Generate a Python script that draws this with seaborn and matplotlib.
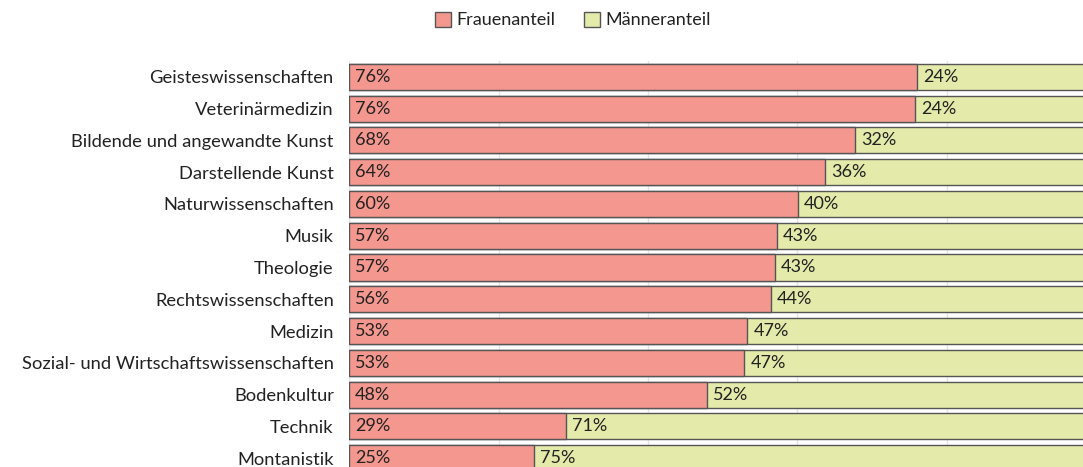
import pandas as pd
import seaborn as sns
import matplotlib.pyplot as plt
from matplotlib.patches import Patch

faecher = ["Geisteswissenschaften", "Veterinärmedizin", "Bildende und angewandte Kunst",
           "Darstellende Kunst", "Naturwissenschaften", "Musik", "Theologie",
           "Rechtswissenschaften", "Medizin", "Sozial- und Wirtschaftswissenschaften",
           "Bodenkultur", "Technik", "Montanistik"]
frauen = [76.0, 75.8, 67.7, 63.7, 60.1, 57.3, 57.0, 56.4, 53.3, 52.9, 47.9, 29.0, 24.8]
maenner = [24.0, 24.2, 32.3, 36.3, 39.9, 42.7, 43.0, 43.6, 46.7, 47.1, 52.1, 71.0, 75.2]

c_f = "#f4978e"
c_m = "#e4eaaa"
edge = "#555555"
txt = "#222222"

sns.set_style("whitegrid")
plt.rcParams["font.family"] = ["Lato", "DejaVu Sans"]

df = pd.DataFrame({"Fach": faecher, "Frauen": frauen, "Maenner": maenner})
df["Gesamt"] = df["Frauen"] + df["Maenner"]

fig = plt.figure(figsize=(10.83, 4.67), dpi=100)
ax = fig.add_axes([0.3223, -0.015, 0.69, 0.8844])

sns.barplot(data=df, x="Gesamt", y="Fach", color=c_m, saturation=1, width=0.82,
            edgecolor=edge, linewidth=1, ax=ax)
sns.barplot(data=df, x="Frauen", y="Fach", color=c_f, saturation=1, width=0.82,
            edgecolor=edge, linewidth=1, ax=ax)

for i, (f, m) in enumerate(zip(frauen, maenner)):
    ax.text(0.8, i, f"{f:.0f}%", va="center", ha="left", fontsize=13, color=txt)
    ax.text(f + 0.8, i, f"{m:.0f}%", va="center", ha="left", fontsize=13, color=txt)

ax.set_xlim(0, 100)
ax.set_ylim(12.5, -0.5)
ax.set_xticks([0, 20, 40, 60, 80, 100])
ax.set_xticklabels([])
ax.grid(axis="x", color="#e6e6e6", linewidth=1)
ax.grid(axis="y", visible=False)
for s in ax.spines.values():
    s.set_visible(False)
ax.set_xlabel("")
ax.set_ylabel("")
ax.tick_params(axis="y", length=0, pad=11, labelsize=13.2, labelcolor=txt)
ax.tick_params(axis="x", length=0)

handles = [Patch(facecolor=c_f, edgecolor=edge, label="Frauenanteil"),
           Patch(facecolor=c_m, edgecolor=edge, label="Männeranteil")]
fig.legend(handles=handles, loc="center", bbox_to_anchor=(0.529, 0.957), ncol=2,
           frameon=False, fontsize=13, handlelength=0.9, handleheight=0.9,
           handletextpad=0.3, columnspacing=1.6, labelcolor=txt)

fig.savefig("out.png", dpi=100)
